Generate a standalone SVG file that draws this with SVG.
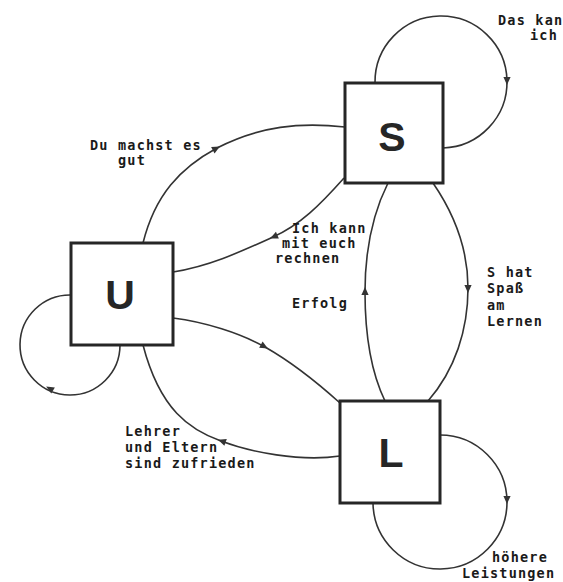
<svg xmlns="http://www.w3.org/2000/svg" xmlns:xlink="http://www.w3.org/1999/xlink" width="563" height="582" viewBox="0 0 563 582">
  <style>
    .box { fill: #ffffff; stroke: #262626; stroke-width: 3; }
    .big { font-family: "Liberation Sans", Arial, sans-serif; font-weight: bold; font-size: 41px; fill: #262626; text-anchor: middle; }
    .edge { fill: none; stroke: #333333; stroke-width: 1.6; }
    .lbl { font-family: "DejaVu Sans Mono", "Liberation Mono", monospace; font-weight: bold; font-size: 13.5px; letter-spacing: 1.2px; fill: #1a1a1a; }
    .head { fill: #333333; }
  </style>
  <defs>
    <!-- arrowhead pointing along +x, tip at origin -->
    <path id="ah" d="M-7,-3.6 L1,0 L-7,3.6 Z"/>
  </defs>
  <rect width="563" height="582" fill="#ffffff"/>

  <g id="connectors">
    <!-- S self loop -->
    <path class="edge" d="M375,83 A66,66 0 1 1 443,148"/>
    <use xlink:href="#ah" class="head" transform="translate(507,84) rotate(90)"/>
    <!-- U self loop -->
    <path class="edge" d="M120,345 A50,50 0 1 1 71,295"/>
    <use xlink:href="#ah" class="head" transform="translate(47,387) rotate(210)"/>
    <!-- L self loop -->
    <path class="edge" d="M440,435 A67,67 0 1 1 373,503"/>
    <use xlink:href="#ah" class="head" transform="translate(507,503) rotate(90)"/>

    <!-- U to S -->
    <path class="edge" d="M143,243 C155,195 180,168 217,148 C260,126 300,122 345,127"/>
    <use xlink:href="#ah" class="head" transform="translate(219,147) rotate(-28)"/>
    <!-- S to U -->
    <path class="edge" d="M344,178 C320,205 300,225 273,237 C240,252 210,266 173,272"/>
    <use xlink:href="#ah" class="head" transform="translate(271,238) rotate(156)"/>
    <!-- L to S -->
    <path class="edge" d="M385,401 C370,370 365,330 365,292 C365,250 372,215 388,183"/>
    <use xlink:href="#ah" class="head" transform="translate(365,288) rotate(-90)"/>
    <!-- S to L -->
    <path class="edge" d="M433,183 C455,215 468,250 468,288 C468,330 455,370 428,401"/>
    <use xlink:href="#ah" class="head" transform="translate(468,292) rotate(90)"/>
    <!-- U to L -->
    <path class="edge" d="M173,318 C205,322 240,333 265,347 C295,364 320,385 340,403"/>
    <use xlink:href="#ah" class="head" transform="translate(267,348) rotate(29)"/>
    <!-- L to U -->
    <path class="edge" d="M143,345 C160,410 190,430 221,441 C250,452 300,462 340,456"/>
    <use xlink:href="#ah" class="head" transform="translate(219,440) rotate(200)"/>
  </g>

  <g id="node-S">
    <rect class="box" x="345" y="83" width="98" height="100"/>
    <text class="big" x="392" y="151">S</text>
  </g>
  <g id="node-U">
    <rect class="box" x="71" y="243" width="102" height="102"/>
    <text class="big" x="120" y="309">U</text>
  </g>
  <g id="node-L">
    <rect class="box" x="340" y="401" width="100" height="102"/>
    <text class="big" x="391" y="467">L</text>
  </g>

  <g id="labels">
    <text class="lbl" x="498" y="25">Das kan</text>
    <text class="lbl" x="530" y="40">ich</text>

    <text class="lbl" x="90" y="150">Du machst es</text>
    <text class="lbl" x="118" y="165">gut</text>

    <text class="lbl" x="292" y="233">Ich kann</text>
    <text class="lbl" x="282" y="248">mit euch</text>
    <text class="lbl" x="275" y="263">rechnen</text>

    <text class="lbl" x="292" y="308">Erfolg</text>

    <text class="lbl" x="487" y="277">S hat</text>
    <text class="lbl" x="487" y="293">Spaß</text>
    <text class="lbl" x="487" y="310">am</text>
    <text class="lbl" x="487" y="326">Lernen</text>

    <text class="lbl" x="125" y="436">Lehrer</text>
    <text class="lbl" x="125" y="452">und Eltern</text>
    <text class="lbl" x="125" y="468">sind zufrieden</text>

    <text class="lbl" x="492" y="562">höhere</text>
    <text class="lbl" x="462" y="578">Leistungen</text>
  </g>
</svg>
